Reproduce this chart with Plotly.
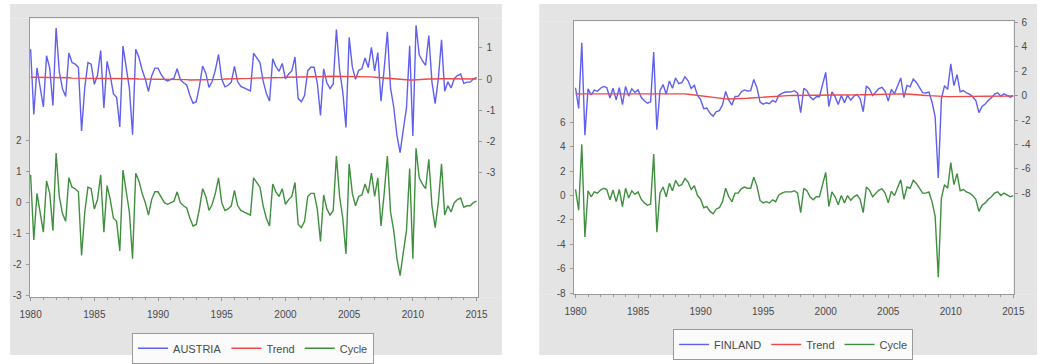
import plotly.graph_objects as go
import pandas as pd

quarters = pd.period_range("1980Q1", "2015Q1", freq="Q")
tick_years = [1980, 1985, 1990, 1995, 2000, 2005, 2010, 2015]
aus_ticks = [-3, -2, -1, 0, 1, 2]
fin_ticks = [-8, -6, -4, -2, 0, 2, 4, 6]

austria_cycle = [
    0.9, -1.2, 0.3, -0.35, -0.95, 0.7, 0.3, -0.9, 1.6, 0.2,
    -0.35, -0.6, 0.8, 0.5, 0.45, 0.35, -1.7, -0.3, 0.5, 0.45,
    -0.2, 0.1, 0.9, -0.95, 0.55, 0.1, -0.5, -0.6, -1.55, 1.05,
    0.4, -0.3, -1.8, 0.95, 0.7, 0.3, 0.0, -0.4, 0.1, 0.35,
    0.35, 0.15, 0.0, -0.05, 0.0, 0.05, 0.35, 0.0, -0.1, -0.17,
    -0.5, -0.75, -0.7, -0.2, 0.45, 0.2, -0.25, -0.05, 0.3, 0.8,
    0.0, -0.25, -0.2, -0.1, 0.4, -0.1, -0.25, -0.3, -0.35, -0.4,
    0.8, 0.65, 0.5, -0.1, -0.5, -0.75, 0.6, 0.35, 0.2, 0.45,
    -0.05, 0.1, 0.2, 0.65, -0.7, -0.8, -0.6, 0.2, 0.3, 0.3,
    -0.2, -1.25, 0.25, -0.2, -0.4, -0.25, 1.5, 0.2, -0.5, -1.65,
    1.25, 0.3, -0.1, 0.2, 0.25, 0.6, 0.3, 0.95, 0.2, 0.8,
    -0.75, 0.3, 1.5, -0.3, -0.9, -1.8, -2.35, -1.6, -0.9, 1.1,
    -1.8, 1.75, 0.8, 0.6, 0.45, 1.4, -0.1, -0.8, 0.0, 1.25,
    -0.4, -0.1, -0.3, 0.0, 0.1, 0.15, -0.15, -0.1, -0.1, 0.0,
    0.05,
]

austria_trend = [
    0.06, 0.06, 0.06, 0.05, 0.05, 0.05, 0.05, 0.05, 0.04, 0.04, 0.04, 0.04,
    0.04, 0.03, 0.03, 0.03, 0.03, 0.03, 0.03, 0.03, 0.03, 0.02, 0.02, 0.02,
    0.02, 0.02, 0.02, 0.01, 0.01, 0.01, 0.01, 0.01, 0.01, 0.01, 0.00, 0.00,
    0.00, 0.00, 0.00, 0.00, 0.00, -0.01, -0.01, -0.01, -0.01, -0.02, -0.02, -0.02,
    -0.02, -0.02, -0.03, -0.03, -0.03, -0.03, -0.03, -0.02, -0.02, -0.02, -0.01, -0.01,
    -0.01, 0.00, 0.00, 0.00, 0.01, 0.01, 0.01, 0.02, 0.02, 0.02, 0.03, 0.03,
    0.03, 0.04, 0.04, 0.04, 0.05, 0.05, 0.05, 0.05, 0.06, 0.06, 0.06, 0.06,
    0.07, 0.07, 0.07, 0.07, 0.08, 0.08, 0.08, 0.08, 0.08, 0.08, 0.09, 0.09,
    0.09, 0.09, 0.09, 0.09, 0.09, 0.09, 0.09, 0.08, 0.08, 0.08, 0.07, 0.07,
    0.06, 0.05, 0.04, 0.03, 0.02, 0.01, 0.00, -0.01, -0.02, -0.03, -0.03, -0.03,
    -0.03, -0.02, -0.02, -0.01, -0.01, 0.00, 0.00, 0.01, 0.01, 0.01, 0.01, 0.01,
    0.01, 0.01, 0.01, 0.01, 0.01, 0.00, 0.00, 0.00, 0.00,
]

finland_cycle = [
    0.5, -1.2, 4.2, -3.4, 0.4, -0.1, 0.3, 0.2, 0.45, 0.6,
    0.5, -0.35, 0.45, -0.5, 0.5, -0.9, 0.6, -0.2, 0.4, 0.1,
    0.3, -0.3, -0.6, -0.8, -0.7, 3.4, -3.0, 0.2, 0.7, -0.1,
    1.0, 0.4, 1.25, 0.8, 0.9, 1.4, 1.1, 0.5, 0.8, 0.0,
    -0.3, -1.0, -0.9, -1.3, -1.5, -1.1, -1.0, -0.5, 0.6, -0.1,
    -0.5, 0.2, 0.2, 0.55, 0.7, 0.6, 0.6, 1.5, 0.8, -0.4,
    -0.6, -0.5, -0.6, -0.35, -0.5, 0.05, 0.2, 0.3, 0.3, 0.3,
    0.4, 0.2, -1.4, 0.6, 0.4, -0.1, -0.35, -0.1, -0.1, 0.9,
    1.9, -0.9, 0.3, -0.1, -0.75, 0.0, -0.6, 0.0, -0.4, -0.1,
    0.05, -0.3, -1.4, 0.7, 0.45, -0.1, 0.2, 0.45, 0.55, 0.2,
    -0.6, 0.35, 0.0, 0.6, 1.3, -0.3, 0.7, 0.6, 1.25, 1.0,
    0.6, 0.2, 0.2, 0.3, -0.5, -1.7, -6.7, -0.2, 0.9, 0.6,
    2.7, 0.9, 1.8, 0.4, 0.5, 0.3, 0.2, 0.0, -0.3, -1.3,
    -0.8, -0.6, -0.3, -0.1, 0.2, 0.3, 0.0, 0.2, 0.05, -0.1,
    0.0,
]

finland_trend = [
    0.15, 0.15, 0.15, 0.16, 0.16, 0.16, 0.16, 0.16, 0.16, 0.16, 0.16, 0.16,
    0.16, 0.16, 0.16, 0.16, 0.16, 0.16, 0.16, 0.17, 0.17, 0.17, 0.18, 0.18,
    0.19, 0.19, 0.20, 0.20, 0.21, 0.21, 0.21, 0.21, 0.20, 0.19, 0.17, 0.15,
    0.12, 0.09, 0.05, 0.01, -0.03, -0.07, -0.11, -0.15, -0.18, -0.21, -0.23, -0.25,
    -0.26, -0.27, -0.27, -0.27, -0.26, -0.25, -0.23, -0.21, -0.19, -0.17, -0.14, -0.12,
    -0.10, -0.08, -0.06, -0.04, -0.03, -0.02, -0.01, 0.00, 0.00, 0.01, 0.01, 0.01,
    0.01, 0.01, 0.01, 0.01, 0.01, 0.01, 0.01, 0.01, 0.01, 0.01, 0.01, 0.02,
    0.02, 0.02, 0.03, 0.03, 0.04, 0.05, 0.06, 0.07, 0.08, 0.09, 0.10, 0.11,
    0.12, 0.13, 0.14, 0.15, 0.15, 0.16, 0.16, 0.16, 0.16, 0.15, 0.14, 0.13,
    0.11, 0.09, 0.07, 0.05, 0.02, 0.00, -0.02, -0.04, -0.06, -0.07, -0.08, -0.08,
    -0.08, -0.08, -0.08, -0.08, -0.08, -0.08, -0.08, -0.09, -0.09, -0.09, -0.09, -0.09,
    -0.08, -0.08, -0.07, -0.06, -0.05, -0.04, -0.03, -0.02, -0.01,
]

x = [p.year + (p.quarter - 1) / 4 for p in quarters]
austria_series = [c + t for c, t in zip(austria_cycle, austria_trend)]
finland_series = [c + t for c, t in zip(finland_cycle, finland_trend)]

W, H = 1053, 364
BLUE = "#5f5ff0"
RED = "#f04848"
GREEN = "#3f8f3f"
AX = "#9a9a9a"
TXT = "#4a4a4a"
PANEL = "#e4e4e4"
FONT = "Liberation Sans, Arial, sans-serif"


def px(v):
    return v / W


def py(v):
    return 1 - v / H


def lab(vals):
    return [str(v).replace("\u2212", "-") for v in vals]


fig = go.Figure()

fig.add_trace(go.Scatter(x=x, y=austria_cycle, name="Cycle", mode="lines",
                         line=dict(color=GREEN, width=1.4), xaxis="x", yaxis="y",
                         legend="legend", legendrank=3))
fig.add_trace(go.Scatter(x=x, y=austria_series, name="AUSTRIA", mode="lines",
                         line=dict(color=BLUE, width=1.4), xaxis="x", yaxis="y2",
                         legend="legend", legendrank=1))
fig.add_trace(go.Scatter(x=x, y=austria_trend, name="Trend", mode="lines",
                         line=dict(color=RED, width=1.4), xaxis="x", yaxis="y2",
                         legend="legend", legendrank=2))
fig.add_trace(go.Scatter(x=x, y=finland_cycle, name="Cycle", mode="lines",
                         line=dict(color=GREEN, width=1.4), xaxis="x2", yaxis="y3",
                         legend="legend2", legendrank=3))
fig.add_trace(go.Scatter(x=x, y=finland_series, name="FINLAND", mode="lines",
                         line=dict(color=BLUE, width=1.4), xaxis="x2", yaxis="y4",
                         legend="legend2", legendrank=1))
fig.add_trace(go.Scatter(x=x, y=finland_trend, name="Trend", mode="lines",
                         line=dict(color=RED, width=1.4), xaxis="x2", yaxis="y4",
                         legend="legend2", legendrank=2))

tickfont = dict(family=FONT, size=10, color=TXT)
xcommon = dict(tickvals=tick_years, ticktext=lab(tick_years),
               showline=True, linecolor=AX, linewidth=1, mirror=True,
               ticks="outside", ticklen=3, tickcolor=AX, showgrid=False,
               zeroline=False, tickfont=tickfont, ticklabelstandoff=5,
               minor=dict(dtick=1, tick0=1980, ticks="outside", ticklen=2, tickcolor=AX))
ycommon = dict(showline=True, linecolor=AX, linewidth=1, ticks="outside",
               ticklen=3, tickcolor=AX, showgrid=False, zeroline=False,
               tickfont=tickfont, ticklabelstandoff=2)

AUS_PLOT = (20, 478, 15, 304)
FIN_PLOT = (575, 1024, 18, 301)

fig.update_layout(
    width=W, height=H,
    margin=dict(l=0, r=0, t=0, b=0),
    paper_bgcolor="white", plot_bgcolor="white",
    font=dict(family=FONT, size=10, color=TXT),
    xaxis=dict(domain=[px(20), px(478)], range=[1979.92, 2015.15], anchor="y", **xcommon),
    yaxis=dict(domain=[py(304), py(15)], range=[-3.04, 5.93], tickvals=aus_ticks,
               ticktext=lab(aus_ticks), anchor="x", side="left", **ycommon),
    yaxis2=dict(range=[-7.02, 1.95], tickvals=aus_ticks, ticktext=lab(aus_ticks),
                overlaying="y", anchor="x", side="right", **ycommon),
    xaxis2=dict(domain=[px(575), px(1024)], range=[1979.84, 2015.02], anchor="y3", **xcommon),
    yaxis3=dict(domain=[py(301), py(18)], range=[-8.1, 14.3], tickvals=fin_ticks,
                ticktext=lab(fin_ticks), anchor="x2", side="left", **ycommon),
    yaxis4=dict(range=[-16.3, 6.1], tickvals=fin_ticks, ticktext=lab(fin_ticks),
                overlaying="y3", anchor="x2", side="right", **ycommon),
    legend=dict(orientation="h", x=px(248), xanchor="center", y=py(341), yanchor="top",
                bgcolor="#fbfbfb", bordercolor="#9a9a9a", borderwidth=1,
                font=dict(family=FONT, size=11, color=TXT), itemwidth=30,
                traceorder="normal"),
    legend2=dict(orientation="h", x=px(799), xanchor="center", y=py(337), yanchor="top",
                 bgcolor="#fbfbfb", bordercolor="#9a9a9a", borderwidth=1,
                 font=dict(family=FONT, size=11, color=TXT), itemwidth=30,
                 traceorder="normal"),
)

# gray panel backgrounds drawn as four strips around each (white) plot area
shapes = []


def rect(x0, x1, y0, y1, color):
    if x1 <= x0 or y1 <= y0:
        return
    shapes.append(dict(type="rect", xref="paper", yref="paper",
                       x0=px(x0), x1=px(x1), y0=py(y1), y1=py(y0),
                       fillcolor=color, line=dict(width=0), layer="below"))


for (x0, x1, plot) in [(0, 502, AUS_PLOT), (540, 1048, FIN_PLOT)]:
    pl, pr, pt, pb = plot
    rect(x0, x1, 0, pt, PANEL)
    rect(x0, x1, pb, H, PANEL)
    rect(x0, pl, pt, pb, PANEL)
    rect(pr, x1, pt, pb, PANEL)
fig.update_layout(shapes=shapes)

fig.write_html("out.html")
